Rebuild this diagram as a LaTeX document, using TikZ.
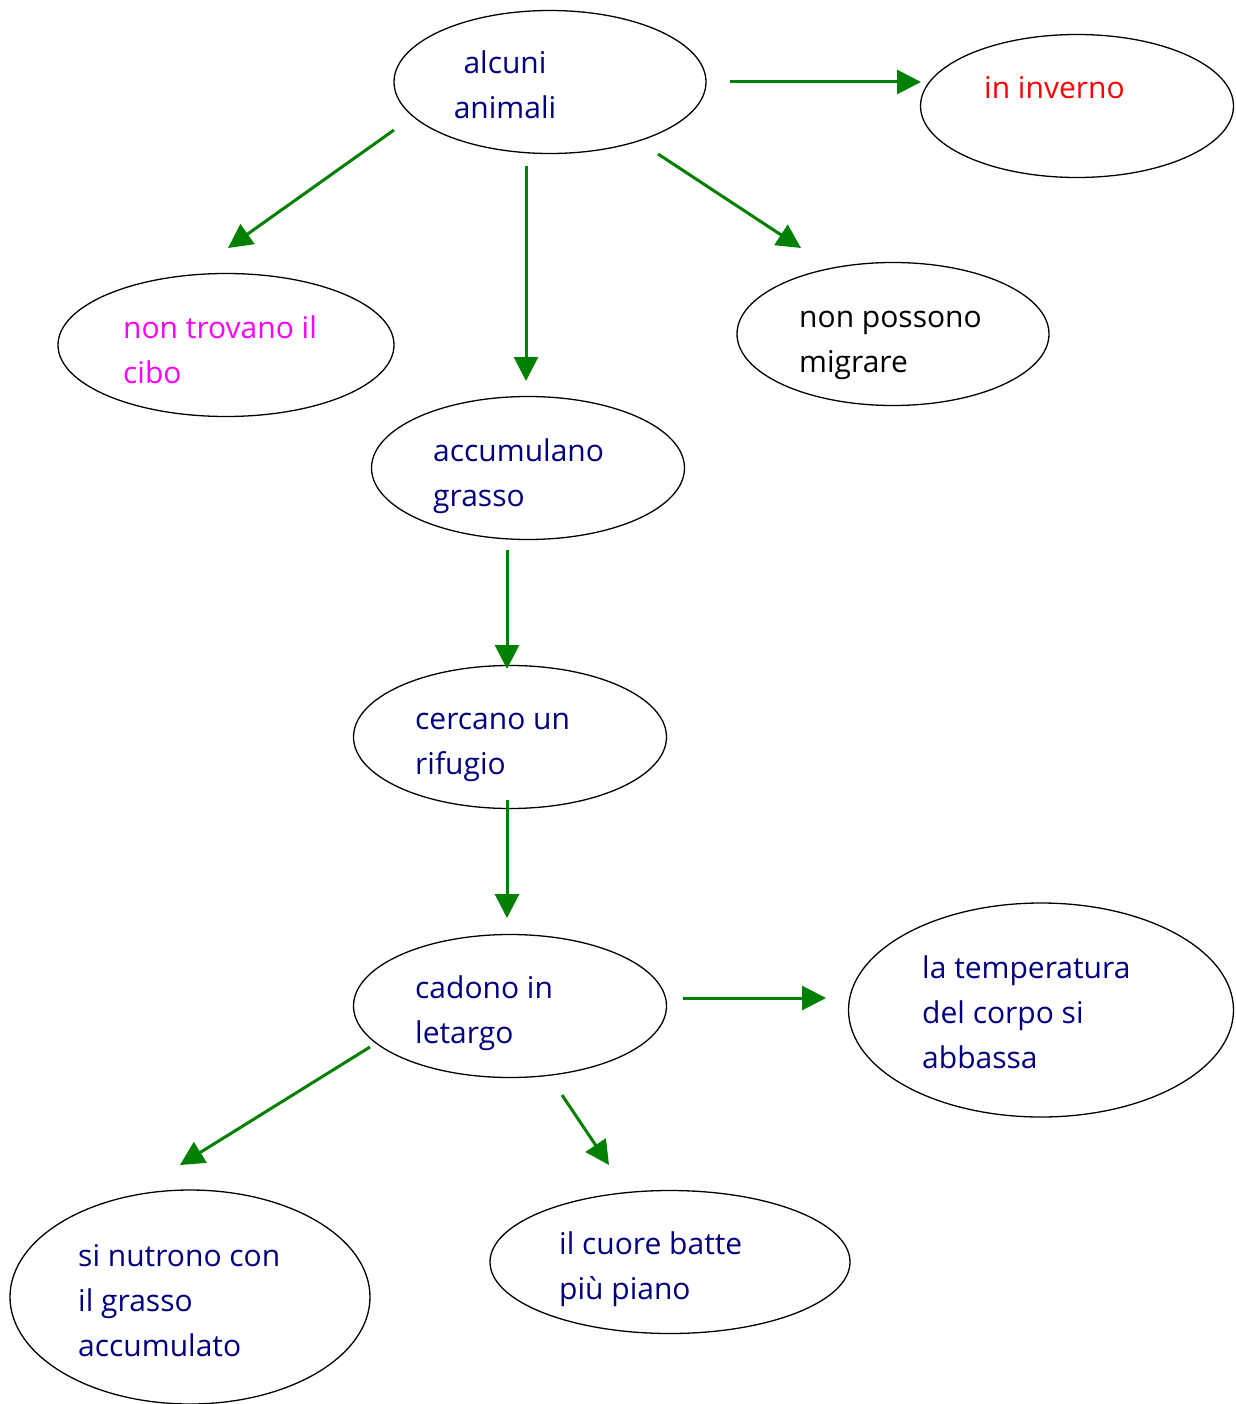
\documentclass[tikz,border=0pt]{standalone}
\usepackage{fontspec}
\setmainfont{Open Sans}
\usetikzlibrary{shapes.geometric,arrows.meta}
\definecolor{navy}{RGB}{0,0,128}
\definecolor{arrgreen}{RGB}{0,128,0}
\definecolor{mag}{RGB}{255,0,255}
\newcommand{\twol}[2]{\vtop{\baselineskip=45pt\hbox{#1}\hbox{#2}}}
\newcommand{\threel}[3]{\vtop{\baselineskip=45pt\hbox{#1}\hbox{#2}\hbox{#3}}}
\begin{document}
\begin{tikzpicture}[x=1pt,y=-1pt,
  bubble/.style={draw=black,line width=1.3pt,ellipse,inner sep=0pt},
  txt/.style={anchor=base west,inner sep=0pt,font=\fontsize{30}{45}\selectfont,text=navy},
  conn/.style={draw=arrgreen,line width=3pt,-{Triangle[length=24pt,width=24pt]}}]
\useasboundingbox (0,0) rectangle (1235,1404);
% ellipses
\node[bubble,minimum width=312pt,minimum height=143pt] (e1) at (550,82) {};
\node[bubble,minimum width=313pt,minimum height=143pt] (e2) at (1077,106) {};
\node[bubble,minimum width=336pt,minimum height=143pt] (e3) at (226,345) {};
\node[bubble,minimum width=312pt,minimum height=143pt] (e4) at (893,334) {};
\node[bubble,minimum width=313pt,minimum height=143pt] (e5) at (528,468) {};
\node[bubble,minimum width=313pt,minimum height=143pt] (e6) at (510,737) {};
\node[bubble,minimum width=313pt,minimum height=143pt] (e7) at (510,1006) {};
\node[bubble,minimum width=385pt,minimum height=214pt] (e8) at (1041,1010) {};
\node[bubble,minimum width=360pt,minimum height=214pt] (e9) at (190,1297) {};
\node[bubble,minimum width=360pt,minimum height=143pt] (e10) at (670,1262) {};
% texts
\node[txt,anchor=base] (t1) at (505,74) {\vtop{\baselineskip=45pt\hbox to 130pt{\hfil alcuni\hfil}\hbox to 130pt{\hfil animali\hfil}}};
\node[txt,text=red] (t2) at (984,99) {in inverno};
\node[txt,text=mag] (t3) at (123,338) {\twol{non trovano il}{cibo}};
\node[txt,text=black] (t4) at (799,327) {\twol{non possono}{migrare}};
\node[txt] (t5) at (433,461) {\twol{accumulano}{grasso}};
\node[txt] (t6) at (415,729) {\twol{cercano un}{rifugio}};
\node[txt] (t7) at (415,998) {\twol{cadono in}{letargo}};
\node[txt] (t8) at (922,978) {\threel{la temperatura}{del corpo si}{abbassa}};
\node[txt] (t9) at (78,1266) {\threel{si nutrono con}{il grasso}{accumulato}};
\node[txt] (t10) at (559,1254) {\twol{il cuore batte}{più piano}};
% connector ends
\coordinate (a1s) at (730,82);   \coordinate (a1e) at (921,82);
\coordinate (a2s) at (394,130);  \coordinate (a2e) at (228,248);
\coordinate (a3s) at (526,166);  \coordinate (a3e) at (526,381);
\coordinate (a4s) at (658,154);  \coordinate (a4e) at (801,248);
\coordinate (a5s) at (507,550);  \coordinate (a5e) at (507,669);
\coordinate (a6s) at (507,800);  \coordinate (a6e) at (507,918);
\coordinate (a7s) at (683,998);  \coordinate (a7e) at (826,998);
\coordinate (a8s) at (370,1047); \coordinate (a8e) at (180,1165);
\coordinate (a9s) at (562,1095); \coordinate (a9e) at (609,1165);
\draw[conn] (a1s) -- (a1e);
\draw[conn] (a2s) -- (a2e);
\draw[conn] (a3s) -- (a3e);
\draw[conn] (a4s) -- (a4e);
\draw[conn] (a5s) -- (a5e);
\draw[conn] (a6s) -- (a6e);
\draw[conn] (a7s) -- (a7e);
\draw[conn] (a8s) -- (a8e);
\draw[conn] (a9s) -- (a9e);
\end{tikzpicture}
\end{document}
